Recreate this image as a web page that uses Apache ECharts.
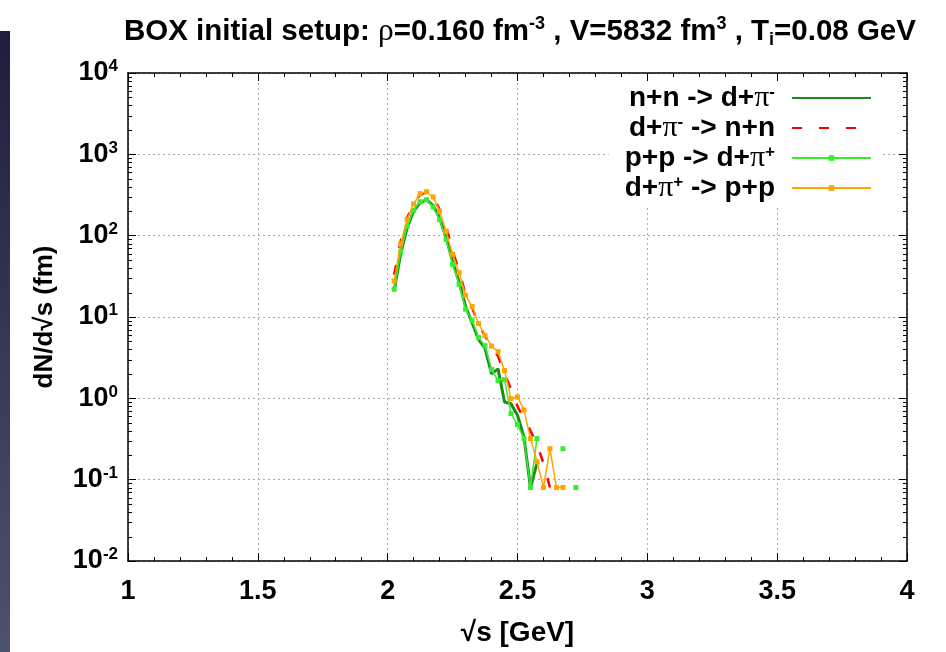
<!DOCTYPE html>
<html><head><meta charset="utf-8">
<script src="https://cdn.jsdelivr.net/npm/echarts@6/dist/echarts.min.js"></script>
<style>html,body{margin:0;padding:0;background:#fff;}#c{width:946px;height:652px;}</style>
</head><body><div id="c"></div>
<script>
// ---- data ----
const sqrtS = [2.025, 2.05, 2.075, 2.1, 2.125, 2.15, 2.175, 2.2, 2.225, 2.25, 2.275, 2.3, 2.325, 2.35, 2.375,
               2.4, 2.425, 2.45, 2.475, 2.5, 2.525, 2.55, 2.575, 2.6, 2.625, 2.65, 2.675, 2.7, 2.725];
const nnToDpiMinus = [21, 60, 125, 200, 255, 275, 235, 165, 95, 48, 27, 13.5, 8.5, 5.3, 4.1,
                      2.0, 2.3, 0.9, 0.86, 0.62, 0.33, 0.08, 0.16, null, null, null, null, null, null];
const dpiMinusToNN = [33, 85, 165, 250, 320, 340, 300, 210, 130, 65, 37, 19, 13, 8.2, 5.8,
                      4.3, 3.3, 2.0, 1.3, 0.8, 0.55, 0.4, 0.27, 0.16, 0.08, null, null, null, null];
const ppToDpiPlus = [21.9, 62.8, 131, 205, 262, 277, 226, 158, 90, 44.4, 25.3, 12.5, 9.0, 5.6, 4.44,
                     2.26, 1.66, 1.70, 0.65, 0.475, 0.32, 0.08, 0.32, null, null, null, 0.24, null, 0.08];
const dpiPlusToPP = [27.7, 80, 158, 246, 329, 347, 299, 200, 113, 59, 35, 18.5, 13.5, 8.3, 5.9,
                     4.4, 3.75, 2.2, 0.99, 1.04, 0.72, 0.32, 0.166, 0.08, 0.24, 0.08, 0.08, null, null];
const seriesNames = ['n+n -> d+π-', 'd+π- -> n+n', 'p+p -> d+π+', 'd+π+ -> p+p'];
const xTickValues = [1, 1.5, 2, 2.5, 3, 3.5, 4];
const yDecadeExponents = [-2, -1, 0, 1, 2, 3, 4];
const yMinorMultipliers = [2, 3, 4, 5, 6, 7, 8, 9];
const titleText = '{t|BOX initial setup: }{g|ρ}{t|=0.160 fm}{s|-3}{t| , V=5832 fm}{s|3}{t| , T}{i|i}{t|=0.08 GeV}';
const legendRich = {
  'n+n -> d+π-': '{t|n+n -> d+}{g|π}{s|-}{sp| }',
  'd+π- -> n+n': '{t|d+}{g|π}{s|-}{t| -> n+n}{sp| }',
  'p+p -> d+π+': '{t|p+p -> d+}{g|π}{s|+}{sp| }',
  'd+π+ -> p+p': '{t|d+}{g|π}{s|+}{t| -> p+p}{sp| }'
};

// ---- chart ----
const FONT = 'Liberation Sans';
const FS = 27;
function pairs(vals) { return sqrtS.map((x, i) => [x, vals[i] == null ? '-' : vals[i]]); }
const xMin = xTickValues[0], xMax = xTickValues[xTickValues.length - 1];
const yMin = Math.pow(10, yDecadeExponents[0]), yMax = Math.pow(10, yDecadeExponents[yDecadeExponents.length - 1]);

function makeRich(size, lh) {
  return {
    t: { fontFamily: FONT, fontWeight: 'bold', fontSize: size, color: '#000', lineHeight: lh },
    g: { fontFamily: 'Liberation Serif', fontWeight: 'normal', fontSize: size + 2, color: '#000', lineHeight: lh },
    s: { fontFamily: FONT, fontWeight: 'bold', fontSize: Math.round(size * 0.62), color: '#000', lineHeight: 14, verticalAlign: 'top' },
    i: { fontFamily: FONT, fontWeight: 'bold', fontSize: Math.round(size * 0.62), color: '#000', lineHeight: 14, verticalAlign: 'bottom' },
    sp: { fontFamily: FONT, fontSize: 10, width: 12, lineHeight: 14 }
  };
}

const chart = echarts.init(document.getElementById('c'), null, { renderer: 'canvas' });
const axisCommon = {
  axisLine: { show: true, onZero: false, lineStyle: { color: '#000', width: 1.5 } },
  axisTick: { show: true, inside: true, length: 8, lineStyle: { color: '#000', width: 1 } }
};
const option = {
  backgroundColor: '#fff',
  animation: false,
  title: {
    text: titleText, left: 119, top: 10,
    textStyle: { rich: makeRich(29.5, 34), fontFamily: FONT, fontSize: 29.5, fontWeight: 'bold' }
  },
  grid: { left: 128, right: 39, top: 73, bottom: 90, containLabel: false },
  legend: {
    orient: 'vertical', right: 66, top: 81, align: 'right',
    itemWidth: 79, itemHeight: 7, itemGap: 0,
    backgroundColor: '#fff', padding: [2, 8, 4, 16],
    data: [
      { name: seriesNames[0], itemStyle: { opacity: 0 } },
      { name: seriesNames[1], itemStyle: { opacity: 0 } },
      { name: seriesNames[2] },
      { name: seriesNames[3] }
    ],
    formatter: name => legendRich[name],
    textStyle: { fontFamily: FONT, fontSize: 28, fontWeight: 'bold', color: '#000', lineHeight: 28, rich: makeRich(28, 28) }
  },
  xAxis: [
    Object.assign({}, axisCommon, {
      type: 'value', min: xMin, max: xMax, interval: 0.5, position: 'bottom',
      name: '√s [GeV]', nameLocation: 'middle', nameGap: 58,
      nameTextStyle: { fontFamily: FONT, fontSize: 28, fontWeight: 'bold', color: '#000' },
      axisLabel: { color: '#000', fontFamily: FONT, fontSize: FS, fontWeight: 'bold', margin: 17,
                   formatter: v => String(v) },
      minorTick: { show: true, splitNumber: 5, length: 4, lineStyle: { color: '#000', width: 1 } },
      splitLine: { show: true, lineStyle: { color: '#aaa', type: [2, 3], width: 1 } }
    }),
    Object.assign({}, axisCommon, {
      type: 'value', min: xMin, max: xMax, interval: 0.5, position: 'top',
      axisLabel: { show: false },
      minorTick: { show: true, splitNumber: 5, length: 4, lineStyle: { color: '#000', width: 1 } },
      splitLine: { show: false }
    })
  ],
  yAxis: [
    Object.assign({}, axisCommon, {
      type: 'log', logBase: 10, min: yMin, max: yMax, splitNumber: 6, position: 'left',
      name: 'dN/d√s (fm)', nameLocation: 'middle', nameGap: 70, nameRotate: 90,
      nameTextStyle: { fontFamily: FONT, fontSize: 26, fontWeight: 'bold', color: '#000' },
      axisLabel: {
        margin: 10, color: '#000',
        formatter: v => '{b|10}{s|' + Math.round(Math.log10(v)) + '}',
        rich: {
          b: { fontFamily: FONT, fontWeight: 'bold', fontSize: FS, color: '#000', lineHeight: 30 },
          s: { fontFamily: FONT, fontWeight: 'bold', fontSize: 17, color: '#000', lineHeight: 14, verticalAlign: 'top' }
        }
      },
      splitLine: { show: true, lineStyle: { color: '#aaa', type: [2, 3], width: 1 } }
    }),
    Object.assign({}, axisCommon, {
      type: 'log', logBase: 10, min: yMin, max: yMax, splitNumber: 6, position: 'right',
      axisLabel: { show: false }, splitLine: { show: false }
    })
  ],
  series: [
    { name: seriesNames[0], type: 'line', data: pairs(nnToDpiMinus), symbol: 'none',
      lineStyle: { color: '#1a8c1a', width: 3 }, itemStyle: { color: '#1a8c1a' }, z: 2 },
    { name: seriesNames[1], type: 'line', data: pairs(dpiMinusToNN), symbol: 'none',
      lineStyle: { color: '#ff0000', width: 2.5, type: [10, 17] }, itemStyle: { color: '#ff0000' }, z: 3 },
    { name: seriesNames[2], type: 'line', data: pairs(ppToDpiPlus), symbol: 'rect', symbolSize: 5, showAllSymbol: true,
      lineStyle: { color: '#33ee33', width: 1.5 }, itemStyle: { color: '#33ee33' }, z: 4 },
    { name: seriesNames[3], type: 'line', data: pairs(dpiPlusToPP), symbol: 'rect', symbolSize: 5, showAllSymbol: true,
      lineStyle: { color: '#ffa500', width: 1.5 }, itemStyle: { color: '#ffa500' }, z: 5 }
  ]
};
chart.setOption(option);

// log minor ticks (2..9 per decade) on left and right frame, positioned via the axis scale
const gx0 = chart.convertToPixel({ xAxisIndex: 0 }, xMin);
const gx1 = chart.convertToPixel({ xAxisIndex: 0 }, xMax);
const graphics = [{
  type: 'rect', left: 0, top: 31, z: 100,
  shape: { x: 0, y: 0, width: 10, height: 621 },
  style: { fill: new echarts.graphic.LinearGradient(0, 0, 0, 1, [
    { offset: 0, color: '#1f1d3d' }, { offset: 1, color: '#4d526f' }]) }
}];
for (let d = 0; d < yDecadeExponents.length - 1; d++) {
  for (const m of yMinorMultipliers) {
    const y = Math.round(chart.convertToPixel({ yAxisIndex: 0 }, m * Math.pow(10, yDecadeExponents[d]))) + 0.5;
    graphics.push({ type: 'line', silent: true, z: 50, shape: { x1: gx0, y1: y, x2: gx0 + 4, y2: y }, style: { stroke: '#000', lineWidth: 1 } });
    graphics.push({ type: 'line', silent: true, z: 50, shape: { x1: gx1 - 4, y1: y, x2: gx1, y2: y }, style: { stroke: '#000', lineWidth: 1 } });
  }
}
chart.setOption({ graphic: graphics });
</script>
</body></html>
